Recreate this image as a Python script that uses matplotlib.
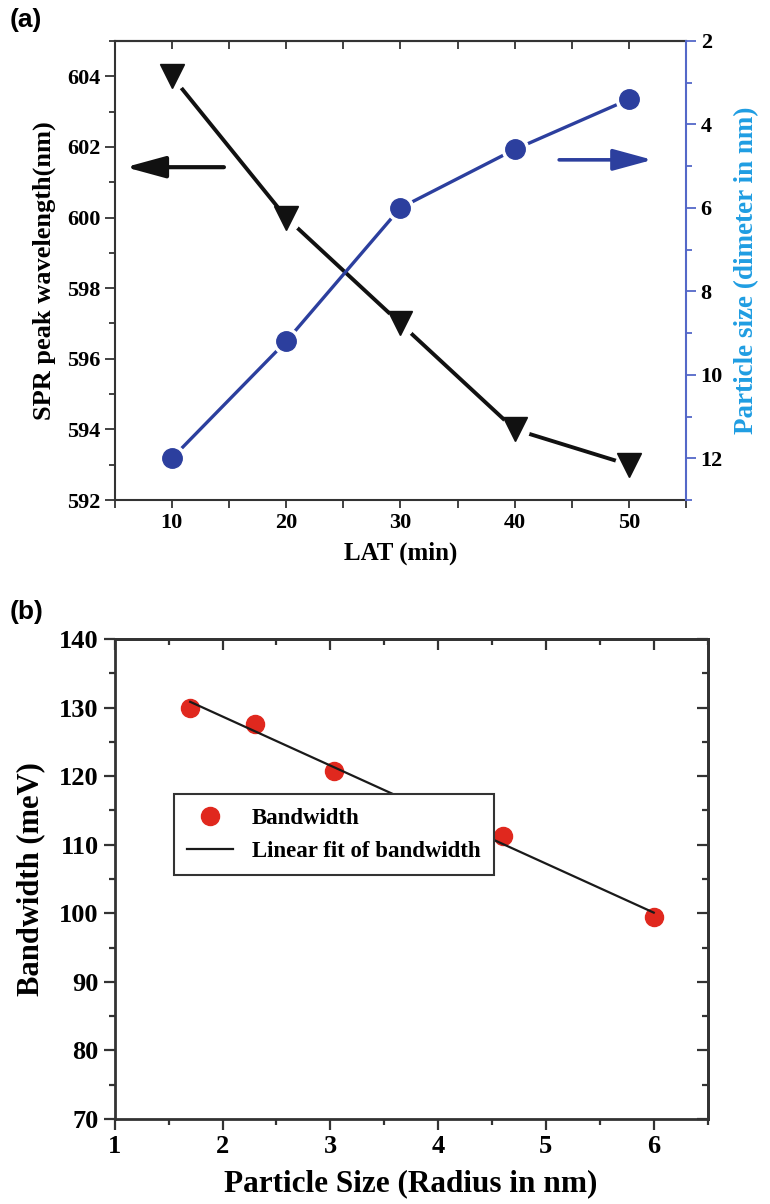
import numpy as np
import matplotlib
matplotlib.use('Agg')
import matplotlib.pyplot as plt
from matplotlib.ticker import MultipleLocator

# panel (a) data
lat_min = [10, 20, 30, 40, 50]
spr_peak_nm = [604, 600, 597, 594, 593]
particle_diam_nm = [12.0, 9.2, 6.0, 4.6, 3.4]

# panel (b) data
radius_nm = [1.7, 2.3, 3.03, 4.6, 6.0]
bandwidth_mev = [130.0, 127.6, 120.7, 111.2, 99.4]

SERIF = ['Liberation Serif', 'DejaVu Serif']
BLUE = '#2c3f9e'
SPINE_BLUE = '#5468c8'
LABEL_BLUE = '#1f9de2'

plt.rcParams['font.family'] = SERIF
plt.rcParams['font.weight'] = 'bold'

fig = plt.figure(figsize=(7.70, 12.04), dpi=100)

# ---------------- panel (a) ----------------
ax = fig.add_axes([0.149, 0.5847, 0.742, 0.3813])
ax2 = ax.twinx()

# white halos give the gap between line and marker
ax.plot(lat_min, spr_peak_nm, color='#111111', lw=2.8, zorder=2)
ax.plot(lat_min, spr_peak_nm, 'o', color='white', ms=20, zorder=3)
ax.plot(lat_min, spr_peak_nm, 'v', color='#111111', ms=17, zorder=4)

ax2.plot(lat_min, particle_diam_nm, color=BLUE, lw=2.4, zorder=2)
ax2.plot(lat_min, particle_diam_nm, 'o', color='white', ms=19, zorder=3)
ax2.plot(lat_min, particle_diam_nm, 'o', color=BLUE, ms=14, zorder=4)

ax.set_xlim(5, 55)
ax.set_ylim(592, 605)
ax2.set_ylim(13, 2)

ax.xaxis.set_major_locator(MultipleLocator(10))
ax.xaxis.set_minor_locator(MultipleLocator(5))
ax.yaxis.set_major_locator(MultipleLocator(2))
ax.yaxis.set_minor_locator(MultipleLocator(1))
ax2.yaxis.set_major_locator(MultipleLocator(2))
ax2.yaxis.set_minor_locator(MultipleLocator(1))

ax.tick_params(axis='x', which='both', direction='out', length=6, width=1.3,
               labelsize=16, color='#333333')
ax.tick_params(axis='y', which='major', direction='out', length=7, width=1.3,
               labelsize=16, color='#333333')
ax.tick_params(axis='y', which='minor', direction='out', length=4, width=1.3,
               color='#333333')
ax2.tick_params(axis='y', which='major', direction='out', length=7, width=1.3,
                labelsize=16, color=SPINE_BLUE, labelcolor='black')
ax2.tick_params(axis='y', which='minor', direction='out', length=4, width=1.3,
                color=SPINE_BLUE)

top = ax.secondary_xaxis('top')
top.xaxis.set_major_locator(MultipleLocator(5))
top.tick_params(direction='in', length=6, width=1.3, labeltop=False, color='#333333')
top.spines['top'].set_linewidth(1.5)
top.spines['top'].set_color('#333333')

for s in ['left', 'bottom', 'top']:
    ax.spines[s].set_linewidth(1.5)
    ax.spines[s].set_color('#333333')
ax.spines['right'].set_visible(False)
ax2.spines['left'].set_visible(False)
ax2.spines['top'].set_visible(False)
ax2.spines['bottom'].set_visible(False)
ax2.spines['right'].set_color(SPINE_BLUE)
ax2.spines['right'].set_linewidth(1.5)

ax.set_xlabel('LAT (min)', fontsize=18, fontweight='bold', labelpad=6)
ax.set_ylabel('SPR peak wavelength(nm)', fontsize=19, fontweight='bold', labelpad=8)
ax2.set_ylabel('Particle size (dimeter in nm)', fontsize=19.5, fontweight='bold',
               color=LABEL_BLUE, labelpad=8)

ax.annotate('', xy=(0.014, 0.725), xytext=(0.196, 0.725), xycoords='axes fraction',
            arrowprops=dict(arrowstyle='-|>,head_length=1.1,head_width=0.3',
                            lw=3, color='#111111', mutation_scale=22))
ax.annotate('', xy=(0.946, 0.741), xytext=(0.773, 0.741), xycoords='axes fraction',
            arrowprops=dict(arrowstyle='-|>,head_length=1.1,head_width=0.3',
                            lw=2.6, color=BLUE, mutation_scale=22))

fig.text(0.012, 0.983, '(a)', fontsize=19, fontweight='bold',
         family=['Liberation Sans', 'DejaVu Sans'], va='center', ha='left')

# ---------------- panel (b) ----------------
bx = fig.add_axes([0.149, 0.0706, 0.770, 0.3987])

fit = np.polyfit(radius_nm, bandwidth_mev, 1)
fit_x = np.array([radius_nm[0], radius_nm[-1]])
bx.plot(radius_nm, bandwidth_mev, 'o', color='#e0281e', ms=13, zorder=3,
        label='Bandwidth')
bx.plot(fit_x, np.polyval(fit, fit_x), color='#1a1a1a', lw=1.6, zorder=4,
        label='Linear fit of bandwidth')

bx.set_xlim(1, 6.5)
bx.set_ylim(70, 140)
bx.xaxis.set_major_locator(MultipleLocator(1))
bx.xaxis.set_minor_locator(MultipleLocator(0.5))
bx.yaxis.set_major_locator(MultipleLocator(10))
bx.yaxis.set_minor_locator(MultipleLocator(5))

bx.tick_params(which='major', direction='out', length=8, width=1.6, labelsize=19,
               color='#333333')
bx.tick_params(which='minor', direction='out', length=4, width=1.6, color='#333333')

btop = bx.secondary_xaxis('top')
btop.xaxis.set_major_locator(MultipleLocator(1))
btop.xaxis.set_minor_locator(MultipleLocator(0.5))
btop.tick_params(which='major', direction='in', length=8, width=1.6, labeltop=False,
                 color='#333333')
btop.tick_params(which='minor', direction='in', length=4, width=1.6, color='#333333')
bright = bx.secondary_yaxis('right')
bright.yaxis.set_major_locator(MultipleLocator(10))
bright.yaxis.set_minor_locator(MultipleLocator(5))
bright.tick_params(which='major', direction='in', length=8, width=1.6,
                   labelright=False, color='#333333')
bright.tick_params(which='minor', direction='in', length=4, width=1.6, color='#333333')
for sx in [btop, bright]:
    for sp in sx.spines.values():
        sp.set_linewidth(2.0)
        sp.set_color('#333333')
for sp in bx.spines.values():
    sp.set_linewidth(2.0)
    sp.set_color('#333333')

bx.set_xlabel('Particle Size (Radius in nm)', fontsize=22.5, fontweight='bold', labelpad=8)
bx.set_ylabel('Bandwidth (meV)', fontsize=22, fontweight='bold', labelpad=10)

bx.legend(loc='upper left', bbox_to_anchor=(0.08, 0.70), frameon=True, fancybox=False,
          edgecolor='#333333', framealpha=1, borderpad=0.6, handlelength=2.0,
          prop={'family': SERIF, 'weight': 'bold', 'size': 16.5})
bx.get_legend().get_frame().set_linewidth(1.5)

fig.text(0.012, 0.492, '(b)', fontsize=19, fontweight='bold',
         family=['Liberation Sans', 'DejaVu Sans'], va='center', ha='left')

fig.savefig('out.png', dpi=100)
